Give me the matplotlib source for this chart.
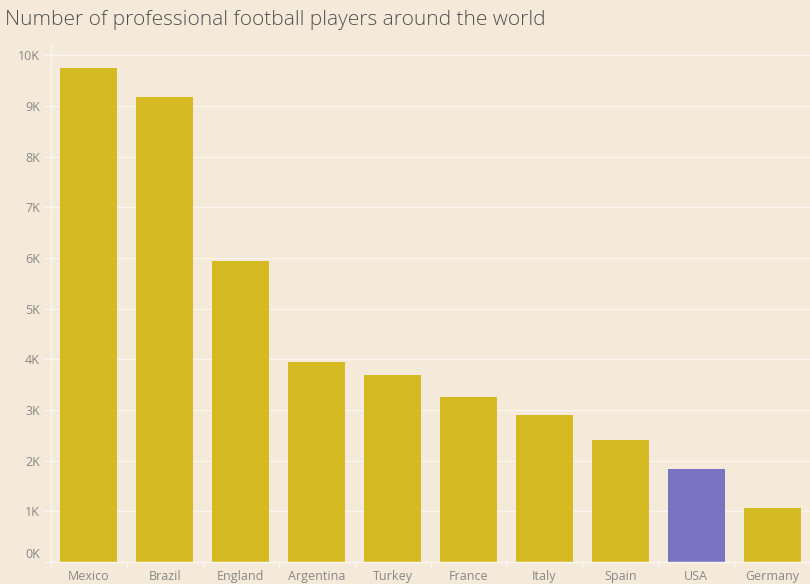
import matplotlib.pyplot as plt
import matplotlib.transforms as mtransforms
import numpy as np

countries = ["Mexico", "Brazil", "England", "Argentina", "Turkey",
             "France", "Italy", "Spain", "USA", "Germany"]
players = [9740, 9180, 5940, 3940, 3690, 3250, 2900, 2410, 1830, 1070]
highlight = "USA"

bg = "#F5EADA"
yellow = "#D5BA21"
purple = "#7874C1"
grid_c = "#FAF5EE"

plt.rcParams["font.family"] = ["Open Sans", "DejaVu Sans"]

fig = plt.figure(figsize=(8.1, 5.84), dpi=100)
fig.patch.set_facecolor(bg)
ax = fig.add_axes([51 / 810, 1 - 562 / 584, 1 - 51 / 810, (562 - 43) / 584])
ax.set_facecolor(bg)

x = np.arange(len(countries))
colors = [purple if c == highlight else yellow for c in countries]
ax.bar(x, players, width=0.75, color=colors, zorder=2)

ax.set_xlim(-0.5, len(countries) - 0.5)
ax.set_ylim(0, 10240)

yt = np.arange(0, 11000, 1000)
ax.set_yticks(yt)
ax.set_yticklabels([f"{v // 1000}K" for v in yt])
ax.set_xticks(x)
ax.set_xticklabels(countries)
ax.set_xticks(np.arange(len(countries) + 1) - 0.5, minor=True)

ax.tick_params(axis="x", which="major", length=0, pad=6, labelsize=9, labelcolor="#888888")
ax.tick_params(axis="x", which="minor", length=5, color=grid_c, width=1)
ax.tick_params(axis="y", length=5, color=grid_c, width=1, pad=3, labelsize=9, labelcolor="#888888")

ax.grid(axis="y", color=grid_c, linewidth=1.0, zorder=0)
ax.set_axisbelow(True)
for s in ["top", "right"]:
    ax.spines[s].set_visible(False)
for s in ["left", "bottom"]:
    ax.spines[s].set_color(grid_c)
    ax.spines[s].set_linewidth(1.0)

# Tableau-style: lift the 0K label off the baseline
lbl0 = ax.get_yticklabels()[0]
lbl0.set_transform(lbl0.get_transform() + mtransforms.ScaledTranslation(0, 9 / 100, fig.dpi_scale_trans))

fig.text(5 / 810, 1 - 20 / 584, "Number of professional football players around the world",
         fontsize=15, color="#505050", va="center", ha="left", fontweight="light")

fig.savefig("out.png", dpi=100, facecolor=bg)
